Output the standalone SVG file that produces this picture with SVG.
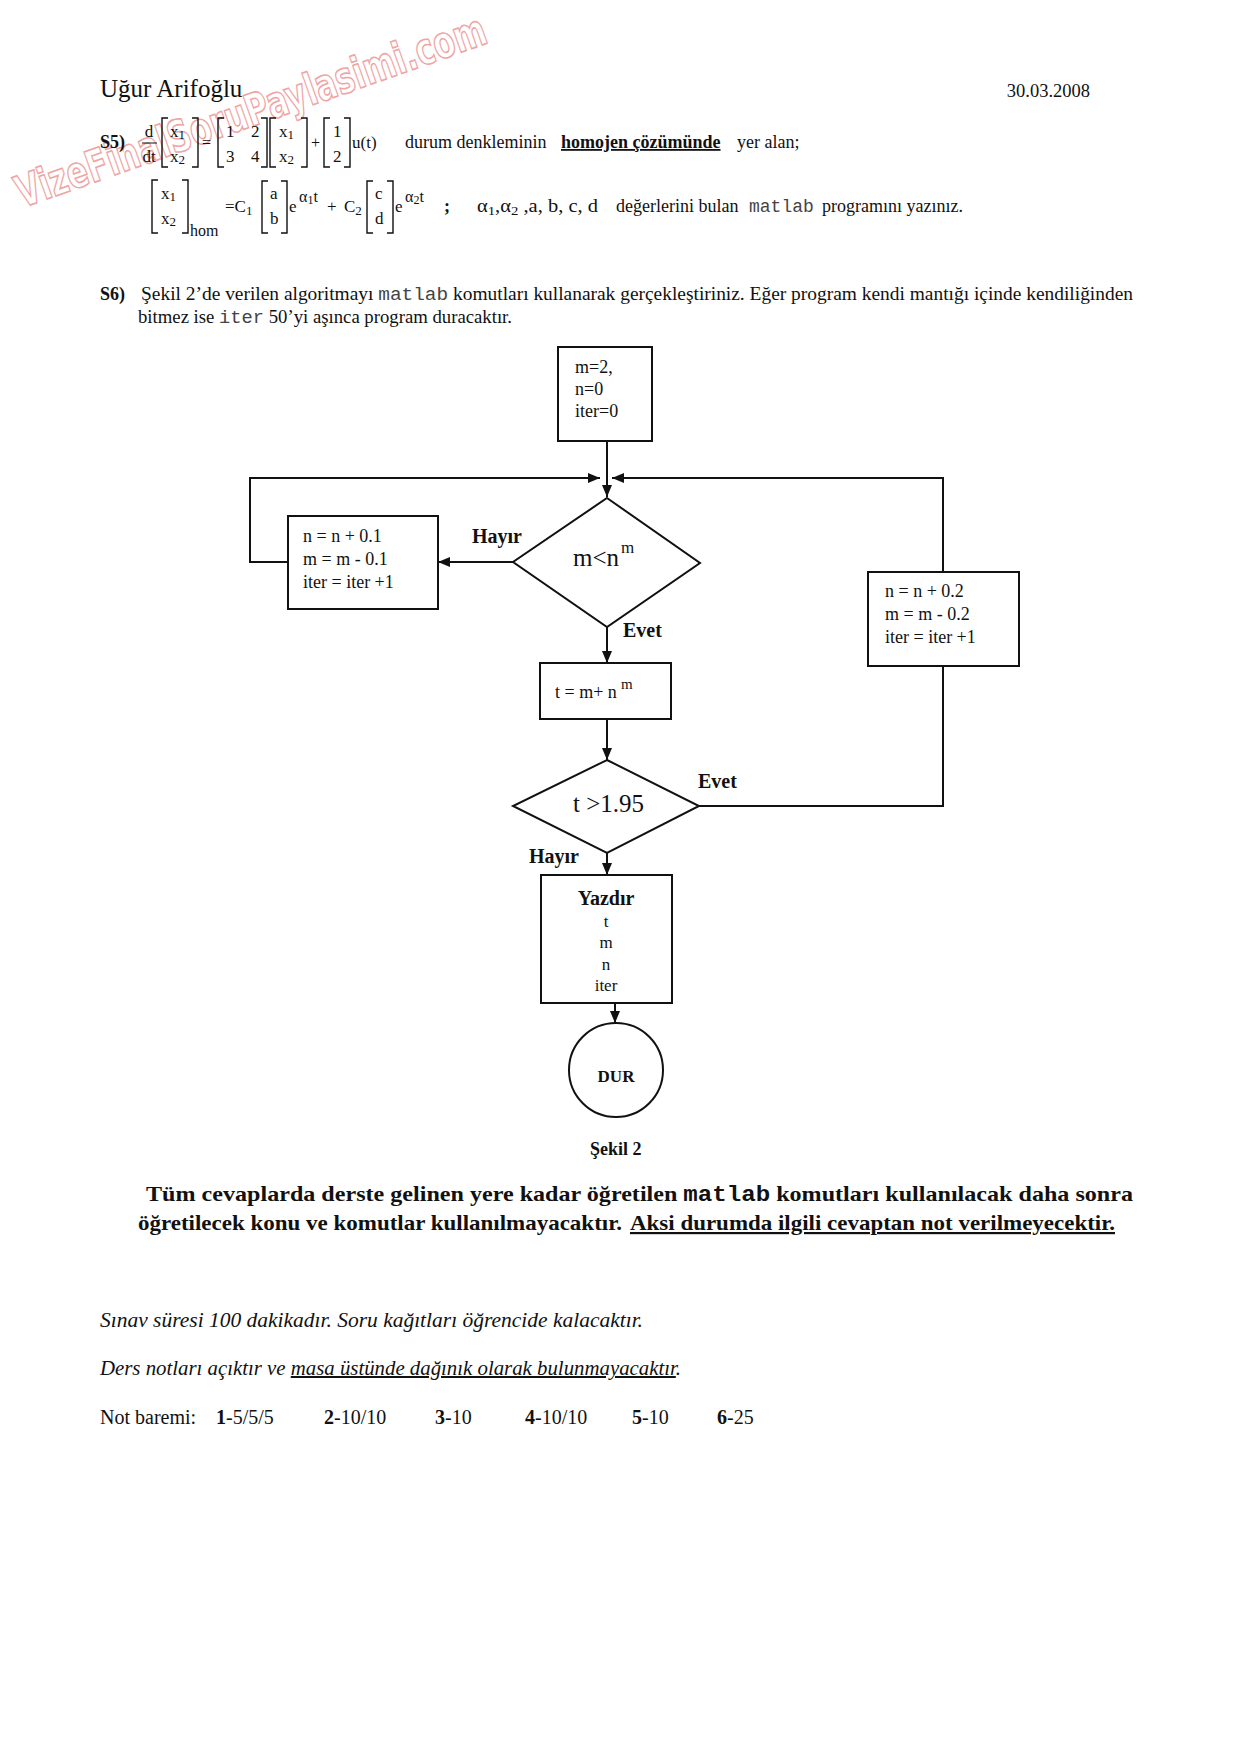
<svg xmlns="http://www.w3.org/2000/svg" width="1240" height="1754" viewBox="0 0 1240 1754">
<style>
text { font-family: "Liberation Serif", "Times New Roman", serif; font-size: 18px; fill: #111; }
.b { font-weight: bold; }
.i { font-style: italic; font-size: 20px; }
.mono { font-family: "Liberation Mono", "Courier New", monospace; fill: #444; }
.monob { font-family: "Liberation Mono", "Courier New", monospace; font-weight: bold; fill: #111; }
.mid { text-anchor: middle; }
.sm { font-size: 13px; }
.br { fill: none; stroke: #111; stroke-width: 1.4; }
.box { fill: #fff; stroke: #111; stroke-width: 2; }
.ln { fill: none; stroke: #111; stroke-width: 2; }
.u { text-decoration: underline; }
.wm { font-family: "DejaVu Sans", sans-serif; font-weight: bold; font-size: 44px; fill: #fff; stroke: #f0a4a4; stroke-width: 1.6; }
</style>
<defs>
<marker id="ah" viewBox="0 0 12 10" refX="12" refY="5" markerWidth="12" markerHeight="10" markerUnits="userSpaceOnUse" orient="auto">
<path d="M0,0 L12,5 L0,10 z" fill="#111"/>
</marker>
</defs>
<rect width="1240" height="1754" fill="#fff"/>

<!-- watermark -->
<text class="wm" x="0" y="0" transform="translate(22,208) rotate(-19.5)" textLength="496" lengthAdjust="spacingAndGlyphs">VizeFinalSoruPaylasimi.com</text>

<!-- header -->
<text x="100" y="97" style="font-size:25px">Uğur Arifoğlu</text>
<text x="1090" y="97" style="font-size:18.5px;text-anchor:end">30.03.2008</text>

<!-- S5 row 1 -->
<g id="s5-eq1">
<text x="100" y="148" class="b">S5)</text>
<text x="149" y="137" class="mid" style="font-size:17px">d</text>
<line x1="142" y1="143" x2="157" y2="143" stroke="#111" stroke-width="1"/>
<text x="149" y="162" class="mid" style="font-size:17px">dt</text>
<path class="br" d="M168,118 H162 V167 H168 M192,118 H198 V167 H192"/>
<text x="170" y="137" style="font-size:17px">x<tspan class="sm" dy="2">1</tspan></text>
<text x="170" y="162" style="font-size:17px">x<tspan class="sm" dy="2">2</tspan></text>
<text x="202" y="148" style="font-size:16px">=</text>
<path class="br" d="M224,118 H218 V167 H224 M261,118 H267 V167 H261"/>
<text x="226" y="137" style="font-size:17px">1</text>
<text x="251" y="137" style="font-size:17px">2</text>
<text x="226" y="162" style="font-size:17px">3</text>
<text x="251" y="162" style="font-size:17px">4</text>
<path class="br" d="M276,118 H270 V167 H276 M301,118 H307 V167 H301"/>
<text x="279" y="137" style="font-size:17px">x<tspan class="sm" dy="2">1</tspan></text>
<text x="279" y="162" style="font-size:17px">x<tspan class="sm" dy="2">2</tspan></text>
<text x="311" y="148" style="font-size:16px">+</text>
<path class="br" d="M330,118 H324 V167 H330 M344,118 H350 V167 H344"/>
<text x="333" y="137" style="font-size:17px">1</text>
<text x="333" y="162" style="font-size:17px">2</text>
<text x="352" y="148" style="font-size:17px">u(t)</text>
<text x="405" y="148">durum denkleminin</text>
<text x="561" y="148" class="b u">homojen çözümünde</text>
<text x="737" y="148">yer alan;</text>
</g>

<!-- S5 row 2 -->
<g id="s5-eq2">
<path class="br" d="M158,180 H152 V233 H158 M182,180 H188 V233 H182"/>
<text x="161" y="199" style="font-size:17px">x<tspan class="sm" dy="2">1</tspan></text>
<text x="161" y="224" style="font-size:17px">x<tspan class="sm" dy="2">2</tspan></text>
<text x="190" y="236" style="font-size:16px">hom</text>
<text x="225" y="212" style="font-size:17px">=C<tspan class="sm" dy="3">1</tspan></text>
<path class="br" d="M268,181 H262 V233 H268 M281,181 H287 V233 H281"/>
<text x="270" y="199" style="font-size:17px">a</text>
<text x="270" y="224" style="font-size:17px">b</text>
<text x="289" y="212" style="font-size:17px">e</text>
<text x="299" y="202" style="font-size:16px">α<tspan dy="2" style="font-size:12px">1</tspan><tspan dy="-2">t</tspan></text>
<text x="327" y="212" style="font-size:17px">+</text>
<text x="344" y="212" style="font-size:17px">C<tspan class="sm" dy="3">2</tspan></text>
<path class="br" d="M373,181 H367 V233 H373 M387,181 H393 V233 H387"/>
<text x="375" y="199" style="font-size:17px">c</text>
<text x="375" y="224" style="font-size:17px">d</text>
<text x="395" y="212" style="font-size:17px">e</text>
<text x="405" y="202" style="font-size:16px">α<tspan dy="2" style="font-size:12px">2</tspan><tspan dy="-2">t</tspan></text>
<text x="444" y="212" class="b">;</text>
<text x="477" y="212" textLength="121" lengthAdjust="spacingAndGlyphs">α<tspan class="sm" dy="3">1</tspan><tspan dy="-3">,α</tspan><tspan class="sm" dy="3">2</tspan><tspan dy="-3"> ,a, b, c, d</tspan></text>
<text x="616" y="212">değerlerini bulan</text>
<text x="749" y="212" class="mono">matlab</text>
<text x="822" y="212">programını yazınız.</text>
</g>

<!-- S6 -->
<g id="s6">
<text x="100" y="300" class="b">S6)</text>
<text x="141" y="300" textLength="992" lengthAdjust="spacingAndGlyphs">Şekil 2’de verilen algoritmayı <tspan class="mono">matlab</tspan> komutları kullanarak gerçekleştiriniz. Eğer program kendi mantığı içinde kendiliğinden</text>
<text x="138" y="323" textLength="374" lengthAdjust="spacingAndGlyphs">bitmez ise <tspan class="mono">iter</tspan> 50’yi aşınca program duracaktır.</text>
</g>

<!-- connectors -->
<g id="connectors">
<path class="ln" d="M607,441 V497" marker-end="url(#ah)"/>
<path class="ln" d="M288,562 H250 V478 H600" marker-end="url(#ah)"/>
<path class="ln" d="M699,806 H943 V666"/>
<path class="ln" d="M943,572 V478 H612" marker-end="url(#ah)"/>
<path class="ln" d="M513,562 H438" marker-end="url(#ah)"/>
<path class="ln" d="M607,627 V663" marker-end="url(#ah)"/>
<path class="ln" d="M607,719 V760" marker-end="url(#ah)"/>
<path class="ln" d="M607,853 V875" marker-end="url(#ah)"/>
<path class="ln" d="M615,1003 V1023" marker-end="url(#ah)"/>
<text x="472" y="543" class="b" style="font-size:20px">Hayır</text>
<text x="623" y="637" class="b" style="font-size:20px">Evet</text>
<text x="698" y="788" class="b" style="font-size:20px">Evet</text>
<text x="529" y="863" class="b" style="font-size:20px">Hayır</text>
</g>

<!-- nodes -->
<g id="start">
<rect class="box" x="558" y="347" width="94" height="94"/>
<text x="575" y="373">m=2,</text>
<text x="575" y="395">n=0</text>
<text x="575" y="417">iter=0</text>
</g>
<g id="cond1">
<path class="box" d="M607,498 L700,563 L607,627 L513,562 Z"/>
<text x="573" y="566" style="font-size:25px">m&lt;n</text>
<text x="621" y="553" style="font-size:17px">m</text>
</g>
<g id="update-left">
<rect class="box" x="288" y="516" width="150" height="93"/>
<text x="303" y="542">n = n + 0.1</text>
<text x="303" y="565">m = m -  0.1</text>
<text x="303" y="588">iter = iter +1</text>
</g>
<g id="update-right">
<rect class="box" x="868" y="572" width="151" height="94"/>
<text x="885" y="597">n = n + 0.2</text>
<text x="885" y="620">m = m -  0.2</text>
<text x="885" y="643">iter = iter +1</text>
</g>
<g id="compute-t">
<rect class="box" x="540" y="663" width="131" height="56"/>
<text x="555" y="698" style="font-size:18px">t = m+ n</text>
<text x="621" y="689" style="font-size:15px">m</text>
</g>
<g id="cond2">
<path class="box" d="M607,760 L699,806 L607,853 L513,806 Z"/>
<text x="573" y="812" style="font-size:25px">t &gt;1.95</text>
</g>
<g id="print">
<rect class="box" x="541" y="875" width="131" height="128"/>
<text x="606" y="905" class="b mid" style="font-size:20px">Yazdır</text>
<text x="606" y="927" class="mid" style="font-size:17px">t</text>
<text x="606" y="948" class="mid" style="font-size:17px">m</text>
<text x="606" y="970" class="mid" style="font-size:17px">n</text>
<text x="606" y="991" class="mid" style="font-size:17px">iter</text>
</g>
<g id="stop">
<circle class="box" cx="616" cy="1070" r="47"/>
<text x="616" y="1082" class="b mid" style="font-size:17px">DUR</text>
</g>

<text x="590" y="1155" class="b" style="font-size:18px">Şekil 2</text>

<!-- notes -->
<g id="notes">
<text x="146" y="1201" class="b" style="font-size:22px" textLength="987" lengthAdjust="spacingAndGlyphs">Tüm cevaplarda derste gelinen yere kadar öğretilen <tspan class="monob">matlab</tspan> komutları kullanılacak daha sonra</text>
<text x="138" y="1230" class="b" style="font-size:22px" textLength="484" lengthAdjust="spacingAndGlyphs">öğretilecek konu ve komutlar kullanılmayacaktır.</text>
<text x="630" y="1230" class="b u" style="font-size:22px" textLength="485" lengthAdjust="spacingAndGlyphs">Aksi durumda ilgili cevaptan not verilmeyecektir.</text>
<text x="100" y="1327" class="i" textLength="543" lengthAdjust="spacingAndGlyphs">Sınav süresi 100  dakikadır.  Soru kağıtları öğrencide kalacaktır.</text>
<text x="100" y="1375" class="i" textLength="581" lengthAdjust="spacingAndGlyphs">Ders notları açıktır ve <tspan class="u">masa üstünde dağınık olarak bulunmayacaktır</tspan>.</text>
<text x="100" y="1424" style="font-size:20px">Not baremi:</text>
<text x="216" y="1424" style="font-size:20px"><tspan class="b">1</tspan>-5/5/5</text>
<text x="324" y="1424" style="font-size:20px"><tspan class="b">2</tspan>-10/10</text>
<text x="435" y="1424" style="font-size:20px"><tspan class="b">3</tspan>-10</text>
<text x="525" y="1424" style="font-size:20px"><tspan class="b">4</tspan>-10/10</text>
<text x="632" y="1424" style="font-size:20px"><tspan class="b">5</tspan>-10</text>
<text x="717" y="1424" style="font-size:20px"><tspan class="b">6</tspan>-25</text>
</g>
</svg>
